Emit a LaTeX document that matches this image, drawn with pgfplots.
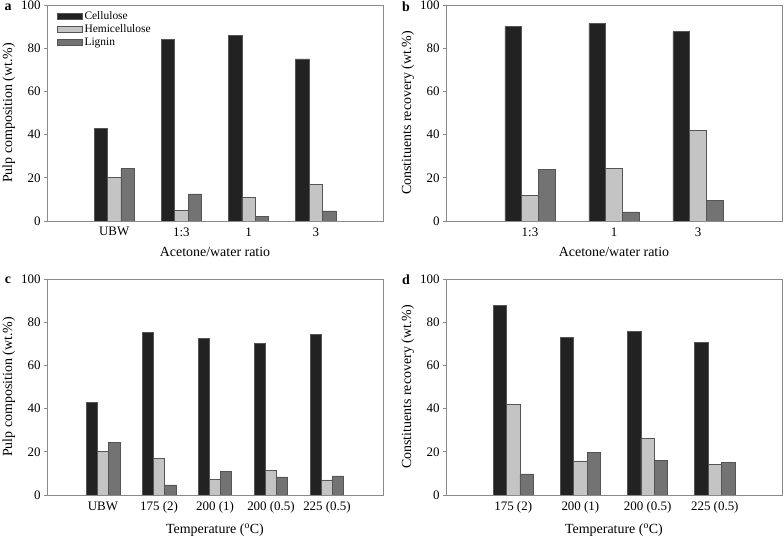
\documentclass[border=0pt]{standalone}
\usepackage{pgfplots}
\pgfplotsset{compat=1.18}
\usepackage{fontspec}
\setmainfont{Liberation Serif}
\definecolor{cel}{HTML}{222222}
\definecolor{hem}{HTML}{C4C4C4}
\definecolor{lig}{HTML}{737373}
\definecolor{edge}{HTML}{555555}
\definecolor{frame}{HTML}{8A8A8A}
\pgfplotsset{
  panel/.style={
    scale only axis, width=336bp, height=216bp,
    anchor=south west,
    ymin=0, ymax=100, ytick={0,20,...,100},
    ytick pos=left, tick align=outside,
    major tick length=3bp,
    xtick=data, xtick style={draw=none},
    axis line style={frame, line width=0.8pt},
    every tick/.style={frame, line width=0.8pt},
    /pgf/number format/assume math mode=true,
    tick label style={font=\fontsize{13}{15}\selectfont},
    label style={font=\fontsize{14}{16}\selectfont},
    ybar=0pt, bar width=0.2,
    xlabel style={yshift=-4bp},
    ylabel style={yshift=-1bp},
  },
  C/.style={fill=cel, draw=edge, line width=0.6pt, bar shift=-0.2},
  H/.style={fill=hem, draw=edge, line width=0.6pt, bar shift=0},
  L/.style={fill=lig, draw=edge, line width=0.6pt, bar shift=0.2},
}
\begin{document}
\begin{tikzpicture}
\useasboundingbox (0bp,0bp) rectangle (784bp,539bp);
% panel a
\begin{axis}[panel, at={(47bp,318bp)}, xmin=-1, xmax=4,
  xticklabels={UBW,1:3,1,3},
  xlabel={Acetone/water ratio},
  ylabel={Pulp composition (wt.\%)},
  legend cell align=left,
  legend style={draw=none, fill=none, at={(axis description cs:0.02,0.99)}, anchor=north west,
    font=\fontsize{11.5}{12}\selectfont, row sep=0bp},
  legend image code/.code={\draw[#1] (0bp,-3bp) rectangle (25bp,3bp);},
]
\addplot[C] coordinates {(0,43) (1,84) (2,86) (3,75)};
\addplot[H] coordinates {(0,20) (1,5) (2,10.8) (3,17)};
\addplot[L] coordinates {(0,24.2) (1,12.5) (2,2) (3,4.7)};
\legend{Cellulose,Hemicellulose,Lignin}
\end{axis}
% panel b
\begin{axis}[panel, at={(446bp,318bp)}, xmin=0, xmax=4,
  xticklabels={1:3,1,3},
  xlabel={Acetone/water ratio},
  ylabel={Constituents recovery (wt.\%)},
]
\addplot[C] coordinates {(1,90) (2,91.5) (3,87.7)};
\addplot[H] coordinates {(1,11.8) (2,24.5) (3,42)};
\addplot[L] coordinates {(1,24) (2,4.2) (3,9.6)};
\end{axis}
% panel c
\begin{axis}[panel, at={(47bp,44bp)}, xmin=-1, xmax=5,
  xticklabels={UBW,175 (2),200 (1),200 (0.5),225 (0.5)},
  xlabel={Temperature (\textsuperscript{o}C)},
  ylabel={Pulp composition (wt.\%)},
]
\addplot[C] coordinates {(0,43) (1,75.2) (2,72.5) (3,70.2) (4,74.5)};
\addplot[H] coordinates {(0,20.2) (1,16.8) (2,7.4) (3,11.4) (4,7)};
\addplot[L] coordinates {(0,24.2) (1,4.7) (2,11.1) (3,8.4) (4,8.8)};
\end{axis}
% panel d
\begin{axis}[panel, at={(446bp,44bp)}, xmin=0, xmax=5,
  xticklabels={175 (2),200 (1),200 (0.5),225 (0.5)},
  xlabel={Temperature (\textsuperscript{o}C)},
  ylabel={Constituents recovery (wt.\%)},
]
\addplot[C] coordinates {(1,87.8) (2,73) (3,75.8) (4,70.8)};
\addplot[H] coordinates {(1,41.8) (2,15.8) (3,26.2) (4,14)};
\addplot[L] coordinates {(1,9.8) (2,19.8) (3,16.2) (4,15)};
\end{axis}
\node[font=\bfseries\fontsize{14}{16}\selectfont] at (8bp,532bp) {a};
\node[font=\bfseries\fontsize{14}{16}\selectfont] at (406bp,532bp) {b};
\node[font=\bfseries\fontsize{14}{16}\selectfont] at (8bp,259bp) {c};
\node[font=\bfseries\fontsize{14}{16}\selectfont] at (406bp,259bp) {d};
\end{tikzpicture}
\end{document}
